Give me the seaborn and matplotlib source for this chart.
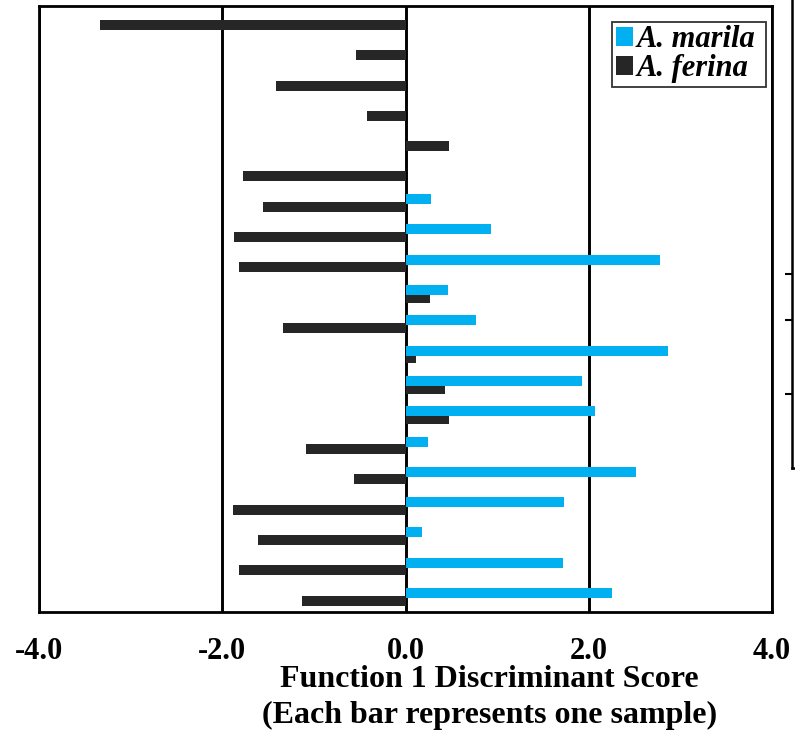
import pandas as pd
import numpy as np
import seaborn as sns
import matplotlib.pyplot as plt

# Discriminant scores, one row per sample (top to bottom)
samples = [f"S{i}" for i in range(1, 21)]
ferina_scores = [-3.33, -0.54, -1.41, -0.42, 0.48, -1.77, -1.56, -1.87, -1.82, 0.27,
                 -1.34, 0.12, 0.43, 0.48, -1.09, -0.56, -1.88, -1.61, -1.82, -1.13]
marila_scores = [np.nan, np.nan, np.nan, np.nan, np.nan, np.nan, 0.28, 0.93, 2.78, 0.46,
                 0.77, 2.86, 1.93, 2.07, 0.25, 2.52, 1.73, 0.18, 1.72, 2.25]
species = ["A. marila", "A. ferina"]
colors = {"A. marila": "#00B0F0", "A. ferina": "#262626"}
x_ticks = [-4.0, -2.0, 0.0, 2.0, 4.0]

df = pd.concat([
    pd.DataFrame({"sample": samples, "species": "A. marila", "score": marila_scores}),
    pd.DataFrame({"sample": samples, "species": "A. ferina", "score": ferina_scores}),
], ignore_index=True)

sns.set_style("white")
plt.rcParams['font.family'] = ['Liberation Serif', 'DejaVu Serif']
plt.rcParams['text.color'] = 'black'
plt.rcParams['xtick.color'] = 'black'

fig = plt.figure(figsize=(7.95, 7.33), dpi=100)
ax = fig.add_axes([39 / 795, 121 / 733, 733 / 795, 606 / 733])

sns.barplot(data=df, x="score", y="sample", hue="species", order=samples,
            hue_order=species, palette=colors, orient="h", dodge=True,
            width=0.5, linewidth=0, errorbar=None, saturation=1, ax=ax)

# thicker, slightly overlapping bars like the original, blue drawn on top
bar_h = 0.33
for cont, z in zip(ax.containers, [3, 2.5]):
    for bar in cont:
        cy = bar.get_y() + bar.get_height() / 2
        bar.set_height(bar_h)
        bar.set_y(cy - bar_h / 2)
        bar.set_zorder(z)

ax.set_xlim(-4, 4)
ax.set_ylim(len(samples) - 0.5, -0.5)
ax.set_xticks(x_ticks)
ax.set_xticklabels([f"{t:.1f}" for t in x_ticks], fontsize=22, fontweight="bold")
ax.set_yticks([])
ax.set_ylabel("")
ax.tick_params(axis="x", length=0, pad=18, labelcolor="black")
ax.set_axisbelow(True)
ax.xaxis.grid(True, color="black", linewidth=2.1)
for s in ax.spines.values():
    s.set_visible(True)
    s.set_color("black")
    s.set_linewidth(2.0)

ax.set_xlabel("Function 1 Discriminant Score\n(Each bar represents one sample)",
              fontsize=23, fontweight="bold", linespacing=1.3, color="black")
ax.xaxis.set_label_coords(0.615, -0.088)

handles, labels = ax.get_legend_handles_labels()
leg = ax.legend(handles, [l + " " for l in labels], loc="upper right",
                bbox_to_anchor=(0.992, 0.974), borderaxespad=0, frameon=True, fancybox=False,
                prop={"family": "Liberation Serif", "weight": "bold", "style": "italic", "size": 22},
                handlelength=0.56, handleheight=0.56, handletextpad=0.1,
                labelspacing=0.0, borderpad=0.12)
leg.get_frame().set_edgecolor("black")
leg.get_frame().set_linewidth(1.3)
for t in leg.get_texts():
    t.set_color("black")

# edge of the neighbouring panel that was cut off on the right
side = fig.add_axes([792 / 795, 265 / 733, 0.2, 1.0])
side.set_xlim(0, 1)
side.set_ylim(0, 733)
side.set_xticks([])
side.set_yticks([74, 148, 194])
side.set_yticklabels([])
side.tick_params(axis="y", left=True, length=5, width=1.5, direction="out", color="black")
for k, s in side.spines.items():
    s.set_visible(k in ("left", "bottom"))
    s.set_linewidth(1.8)
    s.set_color("black")
side.patch.set_alpha(0)

fig.savefig("out.png", dpi=100, facecolor="white")
